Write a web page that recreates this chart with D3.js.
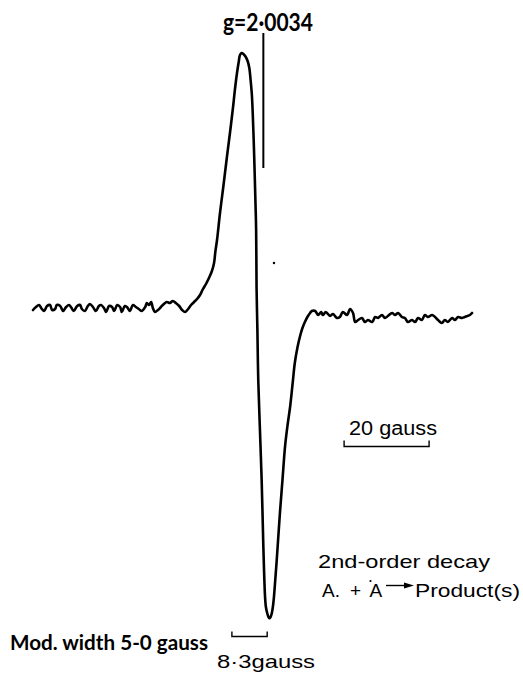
<!DOCTYPE html>
<html><head><meta charset="utf-8">
<script src="https://cdn.jsdelivr.net/npm/d3@7"></script>
<style>html,body{margin:0;padding:0;background:#fff;}svg{display:block;}</style>
</head><body>
<script>
// Field offset (gauss) along the sweep
const field = [0,0.7,1.4,2.1,2.6,3.3,4.0,4.5,5.2,5.6,6.4,7.1,7.8,8.5,9.2,9.6,10.4,11.1,11.5,12.2,12.9,13.4,14.1,14.8,15.5,16.0,16.7,17.2,17.9,18.6,19.1,19.8,20.5,20.9,21.6,22.1,22.8,23.5,24.2,24.9,25.6,26.4,26.8,27.3,27.8,28.2,28.7,29.4,30.1,30.8,31.5,32.2,32.9,33.6,34.4,35.1,35.8,36.5,
 37.2,37.9,38.6,39.3,40.0,40.7,41.4,42.1,42.6,42.9,43.3,44.0,44.8,45.6,46.4,47.1,47.5,48.0,48.4,48.7,49.1,49.5,50.0,50.5,50.9,51.2,51.5,51.7,52.0,52.2,52.5,52.6,52.8,53.0,53.4,53.8,54.2,54.4,54.6,54.8,55.1,55.4,55.6,55.9,56.2,56.5,56.7,57.0,57.3,57.7,58.1,58.7,59.3,59.9,60.5,61.1,61.6,62.2,62.8,63.4,64.0,64.7,65.2,65.6,
 66.4,67.1,67.8,68.2,68.9,69.9,70.6,71.5,72.2,72.9,73.9,74.6,75.3,75.8,76.5,77.4,78.1,78.8,79.8,80.5,81.2,82.1,82.8,83.5,84.5,85.2,85.9,86.8,87.5,88.2,89.2,89.9,90.6,91.5,92.2,92.9,93.9,94.6,95.3,96.2,96.9,97.6,98.6,99.3,100.0,100.9,101.6,102.8,103.3];
// First-derivative ESR signal (arbitrary units)
const signal = [0,1.2,2,0.4,-0.4,1.6,2,0,0.4,2,1.6,-0.4,1.2,2,0.4,-0.4,1.6,2,0.4,-0.4,1.6,2.4,1.2,-0.4,1.6,2,0.8,-0.8,1.6,1.2,-0.4,2,1.2,-0.8,1.6,1.2,-0.4,2,1.2,0.4,-0.4,1.2,2.8,2,3.2,0.8,-0.8,0,1.2,2.4,3.2,2.8,3.6,2.8,1.6,0,-0.8,0.4,
 2,3.2,4.4,6,8.4,10.4,12.8,15.6,18.8,23.2,28,38.8,49.6,60.8,71.6,81.6,88,94.8,99.2,102,102.8,102.4,101.4,99.6,96.8,92,86,78.8,64,52,32,9.2,-8,-28,-48,-68,-94.7,-106,-114.7,-118.8,-121.2,-122.8,-123.3,-122.8,-121.2,-118,-114.7,-108,-101.2,-91.2,-81.2,-68,-54.7,-46,-38.7,-29.2,-21.2,-15.2,-10.7,-7.2,-4.7,-2.4,-1.2,-0.4,
 -0.4,-2,-0.8,-2,-0.8,-2.4,-1.6,-3.2,-2.8,-0.8,-2,0.4,-1.2,-4.8,-4,-3.2,-4.8,-4,-4.8,-2.8,-3.2,-2,-3.2,-2.4,-1.2,-2,-1.2,-2.8,-3.2,-4.8,-4,-4.8,-3.2,-4,-2,-2.8,-2,-2.8,-4,-5.2,-4,-4.8,-3.2,-4,-2.8,-3.2,-2.8,-2,-1.2];

const gLabel = "g=2·0034";
const gField = 54.2;          // field position of the g marker
const gMarkerTop = 110.8, gMarkerBottom = 56.8; // signal units
const scaleBarGauss = 20;
const scaleBarLabel = "20 gauss";
const scaleBarStart = 73.2;
const linewidthGauss = 8.3;
const linewidthLabel = "8·3gauss";
const linewidthStart = 46.8;
const modLabel = "Mod. width 5-0 gauss";
const decayLabel = "2nd-order decay";
const dot = {f: 56.7, s: 18.8};

const W = 523, H = 675;
const svg = d3.select("body").append("svg").attr("width", W).attr("height", H);

const x = d3.scaleLinear().domain([0, 20]).range([33, 118]);
const y = d3.scaleLinear().domain([0, 100]).range([310, 60]);

const pts = field.map((f, i) => [f, signal[i]]);
const line = d3.line().x(d => x(d[0])).y(d => y(d[1])).curve(d3.curveCatmullRom.alpha(0.5));
svg.append("path").attr("d", line(pts)).attr("fill", "none").attr("stroke", "#000")
  .attr("stroke-width", 2.6).attr("stroke-linejoin", "round").attr("stroke-linecap", "round");

// g marker
svg.append("line").attr("x1", x(gField)).attr("x2", x(gField))
  .attr("y1", y(gMarkerTop)).attr("y2", y(gMarkerBottom)).attr("stroke", "#000").attr("stroke-width", 2);
svg.append("text").attr("x", 223).attr("y", 31).attr("font-family", "Lato, 'DejaVu Sans', sans-serif")
  .attr("font-weight", "bold").attr("font-size", 24).attr("textLength", 90).attr("lengthAdjust", "spacingAndGlyphs")
  .text(gLabel);

svg.append("circle").attr("cx", x(dot.f)).attr("cy", y(dot.s)).attr("r", 1.2).attr("fill", "#000");

// scale bar helper
function bar(x0, len, yb, tick) {
  const xa = x(x0), xb = x(x0 + len);
  svg.append("path").attr("d", `M${xa},${yb - tick}V${yb}H${xb}V${yb - tick}`)
    .attr("fill", "none").attr("stroke", "#000").attr("stroke-width", 1.4);
}
bar(scaleBarStart, scaleBarGauss, 446.5, 6);
svg.append("text").attr("x", 349).attr("y", 435).attr("font-family", "'Liberation Sans', Arial, sans-serif")
  .attr("font-size", 20).attr("textLength", 88).attr("lengthAdjust", "spacingAndGlyphs").text(scaleBarLabel);

bar(linewidthStart, linewidthGauss, 636.5, 5);
svg.append("text").attr("x", 217).attr("y", 668).attr("font-family", "'Liberation Sans', Arial, sans-serif")
  .attr("font-size", 19).attr("textLength", 98).attr("lengthAdjust", "spacingAndGlyphs").text(linewidthLabel);

svg.append("text").attr("x", 10).attr("y", 650).attr("font-family", "Lato, 'DejaVu Sans', sans-serif")
  .attr("font-weight", "bold").attr("font-size", 20).attr("textLength", 198).attr("lengthAdjust", "spacingAndGlyphs").text(modLabel);

svg.append("text").attr("x", 318).attr("y", 568).attr("font-family", "'Liberation Sans', Arial, sans-serif")
  .attr("font-size", 19).attr("textLength", 172).attr("lengthAdjust", "spacingAndGlyphs").text(decayLabel);

// Reaction line: A. + ˙A → Product(s)
const rf = "'Liberation Sans', Arial, sans-serif";
svg.append("text").attr("x", 322).attr("y", 597).attr("font-family", rf).attr("font-size", 19).text("A.");
svg.append("text").attr("x", 350).attr("y", 597).attr("font-family", rf).attr("font-size", 19).text("+");
svg.append("text").attr("x", 369.5).attr("y", 597).attr("font-family", rf).attr("font-size", 19).text("A");
svg.append("circle").attr("cx", 370.5).attr("cy", 581).attr("r", 1.1).attr("fill", "#000");
svg.append("line").attr("x1", 386).attr("x2", 406).attr("y1", 585.5).attr("y2", 585.5).attr("stroke", "#000").attr("stroke-width", 1.4);
svg.append("path").attr("d", "M404,582.5L414,585.5L404,588.5Z").attr("fill", "#000");
svg.append("text").attr("x", 415).attr("y", 597).attr("font-family", rf).attr("font-size", 19)
  .attr("textLength", 105).attr("lengthAdjust", "spacingAndGlyphs").text("Product(s)");
</script>
</body></html>
